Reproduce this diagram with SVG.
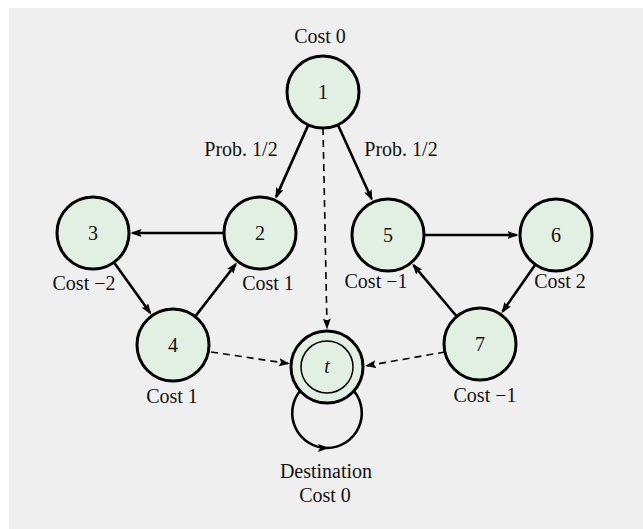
<svg xmlns="http://www.w3.org/2000/svg" width="643" height="529" viewBox="0 0 643 529">
<defs>
<marker id="ah" markerUnits="userSpaceOnUse" markerWidth="12" markerHeight="9" refX="9" refY="4" orient="auto">
<path d="M0,0 L11,4 L0,8 L2,4 z" fill="#000"/>
</marker>
<style>
.node circle.o{fill:#e2efe3;stroke:#000;stroke-width:3}
.edge{fill:none;stroke:#000;stroke-width:2.6;marker-end:url(#ah)}
.dash{fill:none;stroke:#000;stroke-width:1.6;stroke-dasharray:7,5;marker-end:url(#ah)}
text{font-family:"Liberation Serif","DejaVu Serif",serif;font-size:20px;fill:#111;text-anchor:middle}
</style>
</defs>
<rect x="0" y="0" width="643" height="529" fill="#fff"/>
<rect x="9" y="8" width="634" height="521" fill="#efefef"/>
<g id="connectors">
<line class="edge" x1="308.3" y1="124.9" x2="276.2" y2="196.9"/>
<line class="edge" x1="337.9" y1="124.8" x2="371.6" y2="199"/>
<line class="dash" x1="323" y1="128" x2="327" y2="327.5"/>
<line class="edge" x1="224" y1="233" x2="132.5" y2="233"/>
<line class="edge" x1="113.9" y1="262.3" x2="150.1" y2="312.8"/>
<line class="edge" x1="195.1" y1="316.6" x2="235.7" y2="264.2"/>
<line class="edge" x1="424" y1="235" x2="516.5" y2="235"/>
<line class="edge" x1="535.4" y1="264.5" x2="502.6" y2="311.6"/>
<line class="edge" x1="456.8" y1="316.5" x2="413.5" y2="265.2"/>
<line class="dash" x1="211" y1="352" x2="288" y2="363.5"/>
<line class="dash" x1="445" y1="352" x2="367" y2="365.7"/>
<path class="edge" d="M300,391 A35,35 0 0,0 327,448"/>
<path class="edge" style="marker-end:none" d="M327,448 A35,35 0 0,0 354,391"/>
</g>
<g id="node1" class="node"><circle class="o" cx="323" cy="92" r="36"/><text x="323" y="98.5">1</text></g>
<g id="node2" class="node"><circle class="o" cx="260" cy="233" r="36"/><text x="260" y="239.5">2</text></g>
<g id="node3" class="node"><circle class="o" cx="93" cy="233" r="36"/><text x="93" y="239.5">3</text></g>
<g id="node4" class="node"><circle class="o" cx="173" cy="345" r="36"/><text x="173" y="351.5">4</text></g>
<g id="node5" class="node"><circle class="o" cx="388" cy="235" r="36"/><text x="388" y="241.5">5</text></g>
<g id="node6" class="node"><circle class="o" cx="556" cy="235" r="36"/><text x="556" y="241.5">6</text></g>
<g id="node7" class="node"><circle class="o" cx="480" cy="344" r="36"/><text x="480" y="350.5">7</text></g>
<g id="nodet" class="node"><circle class="o" cx="327" cy="367" r="36"/><circle cx="327" cy="367" r="26" fill="none" stroke="#000" stroke-width="1.5"/><text x="327" y="373" font-style="italic">t</text></g>
<g id="labels">
<text x="320" y="43">Cost 0</text>
<text x="241" y="156">Prob. 1/2</text>
<text x="401" y="156">Prob. 1/2</text>
<text x="84" y="290">Cost −2</text>
<text x="268" y="290">Cost 1</text>
<text x="172" y="403">Cost 1</text>
<text x="376" y="288">Cost −1</text>
<text x="560" y="288">Cost 2</text>
<text x="485" y="402">Cost −1</text>
<text x="326" y="478">Destination</text>
<text x="325" y="502">Cost 0</text>
</g>
</svg>
